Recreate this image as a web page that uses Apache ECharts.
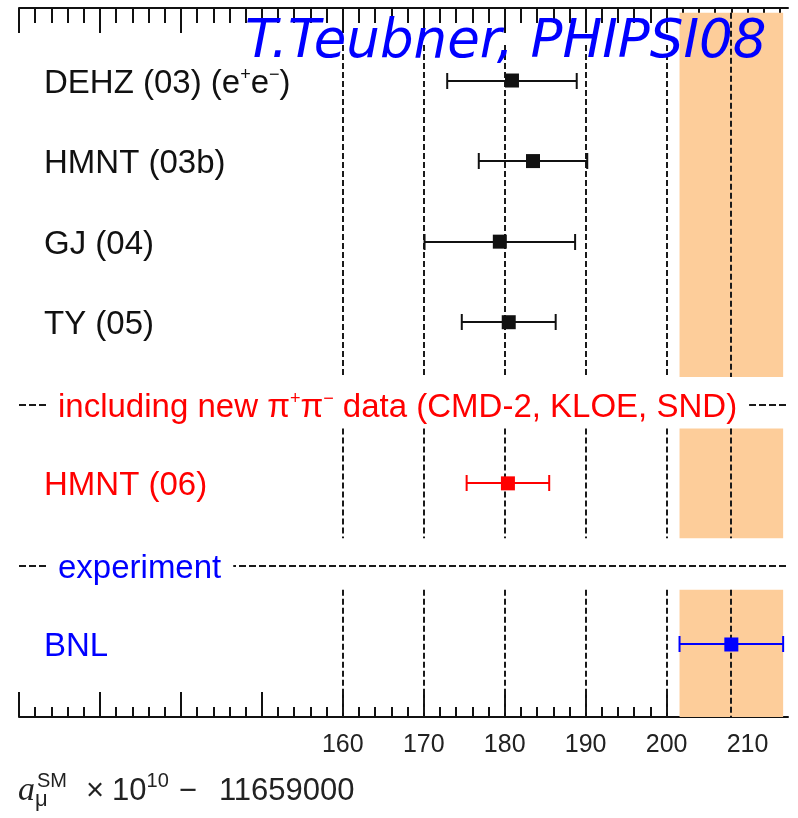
<!DOCTYPE html>
<html>
<head>
<meta charset="utf-8">
<script src="https://cdn.jsdelivr.net/npm/echarts@6/dist/echarts.min.js"></script>
<style>
  html, body { margin: 0; padding: 0; background: #fff; }
  #chart { width: 798px; height: 818px; }
</style>
</head>
<body>
<div id="chart"></div>
<script>
// rows are counted from the top, section headers sit on rows 5 and 7
const rowNames = ['DEHZ (03) (e{sup|+}e{sup|−})', 'HMNT (03b)', 'GJ (04)', 'TY (05)', 'HMNT (06)', 'BNL'];
const rowPos = [1, 2, 3, 4, 6, 8];
const centralValues = [180.9, 183.5, 179.4, 180.5, 180.4, 208.0];
const errors = [8.0, 6.7, 9.3, 5.8, 5.1, 6.4];
const rowColors = ['#111', '#111', '#111', '#111', '#ff0000', '#0000ff'];

const sectionNames = ['including new π{sup|+}π{sup|−} data (CMD-2, KLOE, SND)', 'experiment'];
const sectionPos = [5, 7];
const sectionColors = ['#ff0000', '#0000ff'];

const guideValues = [160, 170, 180, 190, 200];
const majorTicks = [120, 130, 140, 150, 160, 170, 180, 190, 200, 210];
const tickLabels = [160, 170, 180, 190, 200, 210];
const minorTicks = [];
for (let t = 122; t < 215; t += 2) if (t % 10) minorTicks.push(t);

const X_MIN = 120, X_MAX = 215;
const Y_MIN = 0.1, Y_MAX = 8.9;
const GAP = 0.32;        // half height of the break around a section header
const BAND_TOP = 0.16;
const GUIDE_TOP = 0.56;
const expIdx = rowNames.length - 1;   // BNL

const FONT = '"Liberation Sans", Arial, sans-serif';
const TEXT_DY = 3;

function segments(top) {
  const out = [];
  let start = top;
  sectionPos.forEach(s => { out.push([start, s - GAP]); start = s + GAP; });
  out.push([start, Y_MAX]);
  return out;
}

const supStyle = { fontSize: 18, fontFamily: FONT, verticalAlign: 'top', lineHeight: 35 };

function xAxisDef(position, ticks, len, withLabels, withLine) {
  return {
    type: 'value', position: position, min: X_MIN, max: X_MAX,
    axisLine: { show: withLine, onZero: false, lineStyle: { color: '#111', width: 2 } },
    axisTick: { show: true, inside: true, length: len, customValues: ticks,
      lineStyle: { color: '#111', width: 2 } },
    axisLabel: withLabels
      ? { show: true, customValues: tickLabels, color: '#222', fontSize: 25, fontFamily: FONT, margin: 16 }
      : { show: false },
    splitLine: { show: false }
  };
}

function nameTok(size, padLeft, vAlign) {
  return { fontSize: size, fontFamily: FONT, fill: '#222', lineHeight: 40,
    verticalAlign: vAlign || 'middle', padding: [0, 0, 0, padLeft || 0] };
}

const chart = echarts.init(document.getElementById('chart'));

const option = {
  animation: false,
  grid: { left: 19, right: 10, top: 8, bottom: 101 },
  xAxis: [
    xAxisDef('bottom', majorTicks, 25, true, true),
    xAxisDef('bottom', minorTicks, 10, false, false),
    xAxisDef('top', majorTicks, 25, false, true),
    xAxisDef('top', minorTicks, 15, false, false)
  ],
  yAxis: { type: 'value', inverse: true, min: Y_MIN, max: Y_MAX, show: false },
  series: [
    {
      // experimental band, broken at the section headers
      type: 'custom', z: 1, silent: true,
      data: [[centralValues[expIdx] - errors[expIdx], centralValues[expIdx] + errors[expIdx]]],
      renderItem(params, api) {
        const lo = api.value(0), hi = api.value(1);
        return {
          type: 'group',
          children: segments(BAND_TOP).map(([a, b]) => {
            const p1 = api.coord([lo, a]), p2 = api.coord([hi, b]);
            return { type: 'rect',
              shape: { x: p1[0], y: p1[1], width: p2[0] - p1[0], height: p2[1] - p1[1] },
              style: { fill: '#fdcd9a' } };
          })
        };
      }
    },
    {
      // dashed guide lines
      type: 'custom', z: 2, silent: true,
      data: guideValues.concat([centralValues[expIdx]]).map(v => [v]),
      renderItem(params, api) {
        const v = api.value(0);
        const top = params.dataIndex < guideValues.length ? GUIDE_TOP : BAND_TOP;
        return {
          type: 'group',
          children: segments(top).map(([a, b]) => {
            const p1 = api.coord([v, a]), p2 = api.coord([v, b]);
            const x = Math.round(p1[0]);
            return { type: 'line',
              shape: { x1: x, y1: p1[1], x2: x, y2: p2[1] },
              style: { stroke: '#1a1a1a', lineWidth: 2, lineDash: [6, 3] } };
          })
        };
      }
    },
    {
      // section headers
      type: 'custom', z: 3, silent: true,
      data: sectionPos.map(p => [X_MIN, p]),
      renderItem(params, api) {
        const cs = params.coordSys;
        const y = Math.round(api.coord([X_MIN, api.value(1)])[1]) + 2;
        const c = sectionColors[params.dataIndex];
        return {
          type: 'group',
          children: [
            { type: 'line', shape: { x1: cs.x, y1: y, x2: cs.x + cs.width, y2: y },
              style: { stroke: '#1a1a1a', lineWidth: 2, lineDash: [7, 3] } },
            { type: 'text', x: cs.x + 27, y: y + TEXT_DY, z2: 10,
              style: { text: sectionNames[params.dataIndex], fill: c, fontSize: 33, fontFamily: FONT,
                verticalAlign: 'middle', align: 'left', backgroundColor: '#fff', padding: [0, 12],
                rich: { sup: Object.assign({ fill: c }, supStyle) } } }
          ]
        };
      }
    },
    {
      // error bars and row labels
      type: 'custom', z: 3, silent: true,
      data: centralValues.map((v, i) => [v, rowPos[i], errors[i]]),
      encode: { x: 0, y: 1 },
      renderItem(params, api) {
        const cs = params.coordSys;
        const v = api.value(0), r = api.value(1), e = api.value(2);
        const c = rowColors[params.dataIndex];
        const pl = api.coord([v - e, r]), pr = api.coord([v + e, r]);
        const y = Math.round(pl[1]);
        const ls = { stroke: c, lineWidth: 2 };
        return {
          type: 'group',
          children: [
            { type: 'line', shape: { x1: pl[0], y1: y, x2: pr[0], y2: y }, style: ls },
            { type: 'line', shape: { x1: pl[0], y1: y - 8, x2: pl[0], y2: y + 8 }, style: ls },
            { type: 'line', shape: { x1: pr[0], y1: y - 8, x2: pr[0], y2: y + 8 }, style: ls },
            { type: 'text', x: cs.x + 25, y: y + TEXT_DY,
              style: { text: rowNames[params.dataIndex], fill: c, fontSize: 33, fontFamily: FONT,
                verticalAlign: 'middle', align: 'left',
                rich: { sup: Object.assign({ fill: c }, supStyle) } } }
          ]
        };
      }
    },
    {
      type: 'scatter', z: 4, symbol: 'rect', symbolSize: 14, silent: true,
      itemStyle: { opacity: 1 },
      data: centralValues.map((v, i) => ({ value: [v, rowPos[i]], itemStyle: { color: rowColors[i], opacity: 1 } }))
    }
  ],
  graphic: [
    {
      type: 'text', x: 245, y: 43, z: 100, silent: true,
      style: { text: 'T.Teubner, PHIPSI08', font: 'italic 53px "DejaVu Sans"', fill: '#0000ff',
        verticalAlign: 'middle', align: 'left' }
    },
    {
      type: 'group', z: 100, silent: true,
      children: [
        { type: 'text', x: 18, y: 791,
          style: { text: '{a|a}{sub|μ}', verticalAlign: 'middle', align: 'left', fill: '#222',
            rich: {
              a: { font: 'italic 34px "Liberation Serif"', fill: '#222', lineHeight: 40, verticalAlign: 'middle' },
              sub: nameTok(22, 0, 'bottom')
            } } },
        { type: 'text', x: 37, y: 791,
          style: { text: '{sup|SM}{x|×}{n|10}{sup|10}{m|−}{d|11659000}', verticalAlign: 'middle', align: 'left', fill: '#222',
            rich: {
              x: nameTok(31, 19),
              n: nameTok(31, 8),
              m: nameTok(31, 10),
              d: nameTok(31, 22),
              sup: nameTok(20, 0, 'top')
            } } }
      ]
    }
  ]
};

chart.setOption(option);
</script>
</body>
</html>
